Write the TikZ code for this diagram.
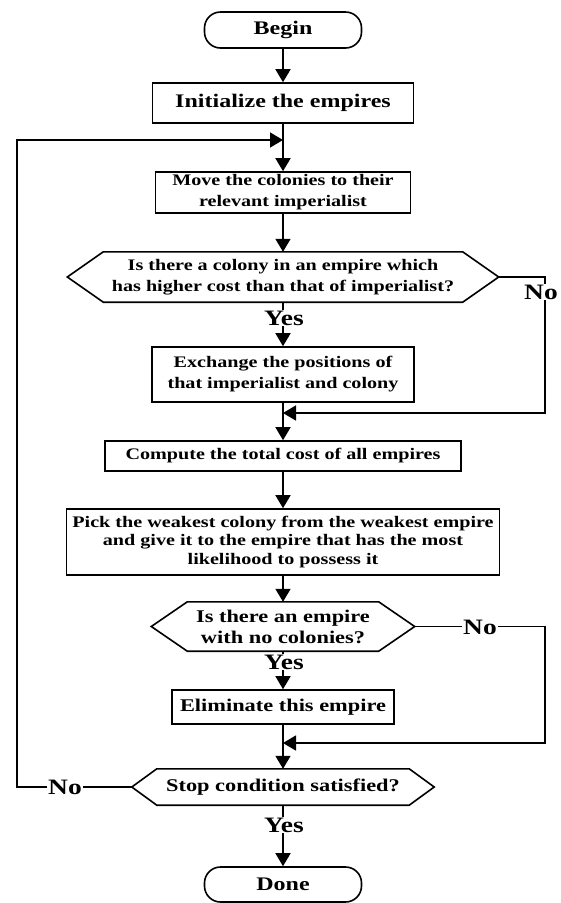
\documentclass[tikz,border=0pt]{standalone}
\usepackage{fontspec}
\setmainfont[FakeStretch=1.25]{Liberation Serif}
\usetikzlibrary{arrows.meta}
\newcommand\fA{\fontsize{19.2}{23}\selectfont\bfseries}
\newcommand\fB{\fontsize{16.1}{21}\selectfont\bfseries}
\newcommand\fBp{\fontsize{16.1}{18.5}\selectfont\bfseries}
\newcommand\fC{\fontsize{17.9}{21}\selectfont\bfseries}
\newcommand\fY{\fontsize{22}{24}\selectfont\bfseries}
\newcommand\hexa[2]{\draw[ln] (#1.west) -- ([xshift=#2]#1.north west) -- ([xshift=-#2]#1.north east) -- (#1.east) -- ([xshift=-#2]#1.south east) -- ([xshift=#2]#1.south west) -- cycle;}
\tikzset{
  ln/.style={line width=1.6pt},
  box/.style={draw, line width=1.6pt, inner sep=0pt, align=center},
  term/.style={box, rounded corners=16pt},
  hexnode/.style={inner sep=0pt, align=center},
  lbl/.style={fill=white, inner sep=1pt, font=\fY},
  arr/.style={line width=1.6pt, -{Triangle[width=15pt,length=13pt]}}
}
\begin{document}
\begin{tikzpicture}[x=1pt,y=-1pt]
\fill[white] (0,0) rectangle (561,903);
\useasboundingbox (0,0) rectangle (561,903);

\node[term, minimum width=157pt, minimum height=36pt, font=\fA] (begin) at (283,30) {Begin};
\node[box, minimum width=261pt, minimum height=40pt, font=\fA] (init) at (283,103) {Initialize the empires};
\node[box, minimum width=255pt, minimum height=41pt, font=\fB] (move) at (283,192.5) {Move the colonies to their\\relevant imperialist};
\node[hexnode, minimum width=431pt, minimum height=50pt, font=\fB] (dec1) at (283,277) {Is there a colony in an empire which\\has higher cost than that of imperialist?};
\hexa{dec1}{36}
\node[box, minimum width=262pt, minimum height=55pt, font=\fB] (exch) at (283,374.5) {Exchange the positions of\\that imperialist and colony};
\node[box, minimum width=356pt, minimum height=30pt, font=\fB] (comp) at (283,456) {Compute the total cost of all empires};
\node[box, minimum width=433pt, minimum height=66pt, font=\fBp] (pick) at (283,542) {Pick the weakest colony from the weakest empire\\and give it to the empire that has the most\\likelihood to possess it};
\node[hexnode, minimum width=263pt, minimum height=49pt, font=\fC] (dec2) at (283,626.5) {Is there an empire\\with no colonies?};
\hexa{dec2}{36}
\node[box, minimum width=222pt, minimum height=34pt, font=\fC] (elim) at (283,707) {Eliminate this empire};
\node[hexnode, minimum width=302pt, minimum height=36pt, font=\fC] (dec3) at (283,787) {Stop condition satisfied?};
\hexa{dec3}{25}
\node[term, minimum width=157pt, minimum height=35pt, font=\fA] (done) at (283,884.5) {Done};

\coordinate (lx) at (17,0);
\coordinate (rx) at (545,0);
\coordinate (j1) at (283,140);
\coordinate (j2) at (283,413);
\coordinate (j3) at (283,743);

\draw[arr] (begin) -- (init);
\draw[arr] (init) -- (move);
\draw[arr] (move) -- (dec1);
\draw[arr] (dec1) -- (exch);
\draw[arr] (exch) -- (comp);
\draw[arr] (comp) -- (pick);
\draw[arr] (pick) -- (dec2);
\draw[arr] (dec2) -- (elim);
\draw[arr] (elim) -- (dec3);
\draw[arr] (dec3) -- (done);

\draw[arr] (dec1.east) -- (dec1.east -| rx) |- (j2);
\draw[arr] (dec2.east) -- (dec2.east -| rx) |- (j3);
\draw[arr] (dec3.west) -- (dec3.west -| lx) |- (j1);

\node[lbl] (y1) at (284,318) {Yes};
\node[lbl] (y2) at (284,662) {Yes};
\node[lbl] (y3) at (284,825) {Yes};
\node[lbl] (n1) at (541,292) {No};
\node[lbl] (n2) at (480,627) {No};
\node[lbl] (n3) at (65,787) {No};
\end{tikzpicture}
\end{document}
